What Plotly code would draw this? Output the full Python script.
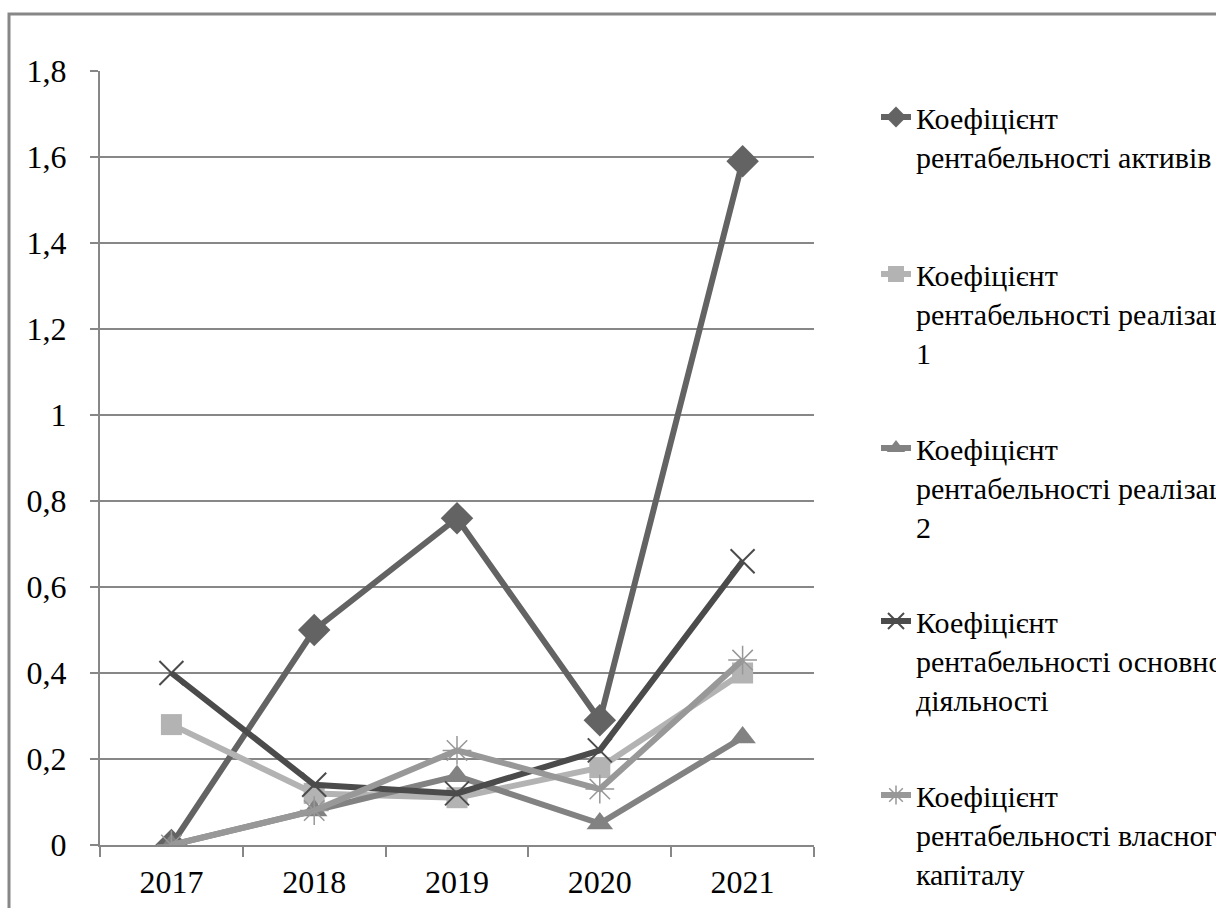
import plotly.graph_objects as go

# Years on the category axis
years = ["2017", "2018", "2019", "2020", "2021"]

# Profitability ratios by year
roa = [0.0, 0.50, 0.76, 0.29, 1.59]              # рентабельність активів
ros_1 = [0.28, 0.12, 0.11, 0.18, 0.40]           # рентабельність реалізації 1
ros_2 = [0.0, 0.08, 0.16, 0.05, 0.25]            # рентабельність реалізації 2
core_ops = [0.40, 0.14, 0.12, 0.22, 0.66]        # рентабельність основної діяльності
roe = [0.0, 0.08, 0.22, 0.13, 0.43]              # рентабельність власного капіталу

series_names = [
    "Коефіцієнт<br>рентабельності активів",
    "Коефіцієнт<br>рентабельності реалізації<br>1",
    "Коефіцієнт<br>рентабельності реалізації<br>2",
    "Коефіцієнт<br>рентабельності основної<br>діяльності",
    "Коефіцієнт<br>рентабельності власного<br>капіталу",
]

y_ticks = [0, 0.2, 0.4, 0.6, 0.8, 1.0, 1.2, 1.4, 1.6, 1.8]
y_tick_labels = ["0", "0,2", "0,4", "0,6", "0,8", "1", "1,2", "1,4", "1,6", "1,8"]

FONT = "Liberation Serif"
GRID = "#878787"
W, H = 1216, 908
ML, MR, MT, MB = 100, 402, 71, 63

styles = [
    dict(color="#636363", symbol="diamond", size=25, mline=0),
    dict(color="#b3b3b3", symbol="square", size=21, mline=0),
    dict(color="#828282", symbol="triangle-up", size=23, mline=0),
    dict(color="#4b4b4b", symbol="x-thin-open", size=24, mline=2),
    dict(color="#989898", symbol="asterisk-open", size=24, mline=1.5),
]
values = [roa, ros_1, ros_2, core_ops, roe]
legend_tops = [91, 248, 422, 595, 769]

fig = go.Figure()
for i, (vals, name, st) in enumerate(zip(values, series_names, styles)):
    lg = "legend" if i == 0 else f"legend{i + 1}"
    fig.add_trace(go.Scatter(
        x=years, y=vals, name=name, mode="lines+markers",
        line=dict(color=st["color"], width=6),
        marker=dict(symbol=st["symbol"], size=st["size"], color=st["color"],
                    line=dict(color=st["color"], width=st["mline"])),
        legend=lg,
    ))

legend_common = dict(
    xref="container", yref="container", x=(877 - 1) / W, xanchor="left",
    yanchor="top", font=dict(family=FONT, size=30, color="black"),
    bgcolor="rgba(0,0,0,0)", valign="top", itemwidth=30,
)
layout_legends = {}
for i, top in enumerate(legend_tops):
    key = "legend" if i == 0 else f"legend{i + 1}"
    layout_legends[key] = dict(legend_common, y=1 - top / H)

plot_w = W - ML - MR
plot_h = H - MT - MB

fig.update_layout(
    width=W, height=H,
    margin=dict(l=ML, r=MR, t=MT, b=MB, autoexpand=False),
    paper_bgcolor="white", plot_bgcolor="white",
    separators=", ",
    font=dict(family=FONT, size=32, color="black"),
    showlegend=True,
    **layout_legends,
    xaxis=dict(
        type="category", range=[-0.5, 4.5],
        showline=True, linecolor=GRID, linewidth=2,
        showgrid=False, zeroline=False,
        ticks="outside", tickson="boundaries", ticklen=10,
        tickcolor=GRID, tickwidth=2,
        tickfont=dict(family=FONT, size=32, color="black"),
        ticklabelstandoff=8,
    ),
    yaxis=dict(
        range=[0, 1.8], tickvals=y_ticks, ticktext=y_tick_labels,
        showline=True, linecolor=GRID, linewidth=2,
        showgrid=True, gridcolor=GRID, gridwidth=2, zeroline=False,
        ticks="outside", ticklen=8, tickcolor=GRID, tickwidth=2,
        tickfont=dict(family=FONT, size=32, color="black"),
        ticklabelstandoff=17,
    ),
    shapes=[dict(
        type="rect", xref="paper", yref="paper",
        x0=(9 - ML) / plot_w, x1=(W + 20 - ML) / plot_w,
        y0=(H - MB - (H + 20)) / plot_h, y1=(H - MB - 14) / plot_h,
        line=dict(color=GRID, width=3), fillcolor="rgba(0,0,0,0)", layer="below",
    )],
)

fig.write_html("out.html")
